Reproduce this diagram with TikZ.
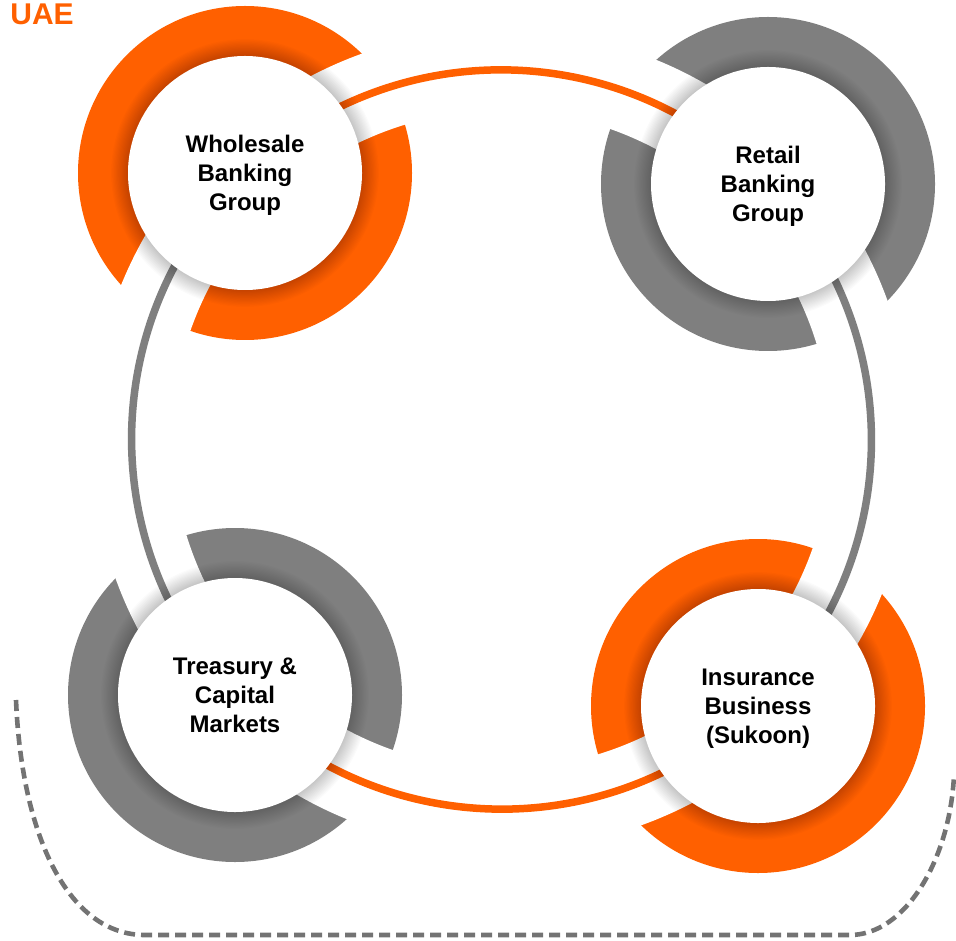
\documentclass[tikz,border=0pt]{standalone}
\usepackage{fontspec}
\setmainfont{Liberation Sans}
\definecolor{eorange}{RGB}{255,96,0}
\definecolor{egray}{RGB}{127,127,127}
\definecolor{dgray}{RGB}{115,115,115}
\pgfdeclarelayer{ringlayer}
\pgfdeclarelayer{linklayer}
\pgfsetlayers{ringlayer,linklayer,main}
\tikzset{
  unit/.style={circle, fill=white, minimum size=117pt, inner sep=0pt, align=center,
    text depth=-3pt, font=\bfseries\fontsize{12}{14.5}\selectfont, text=black},
  orangelink/.style={draw=eorange, line width=3.75pt},
  graylink/.style={draw=egray, line width=3.75pt},
  gapband/.style={draw=white, line width=40.5pt},
  dashline/.style={draw=dgray, line width=2.3pt, dash pattern=on 5.5pt off 3pt},
  glow/.style={fill=black, opacity=0.014},
}
\begin{document}
\begin{tikzpicture}[x=0.5pt,y=0.5pt]
\useasboundingbox (0,0) rectangle (956,-940);
\node[anchor=north west, inner sep=0pt, text=eorange, font=\bfseries\fontsize{15}{18}\selectfont] (uae) at (10,-3) {UAE};

\node[unit] (W) at (245,-173) {Wholesale\\Banking\\Group};
\node[unit] (R) at (768,-184) {Retail\\Banking\\Group};
\node[unit] (T) at (235,-695) {Treasury \&\\Capital\\Markets};
\node[unit] (I) at (758,-706) {Insurance\\Business\\(Sukoon)};

\begin{pgfonlayer}{ringlayer}
  \fill[eorange] (W.center) circle[radius=167];
  \fill[egray] (R.center) circle[radius=167];
  \fill[egray] (T.center) circle[radius=167];
  \fill[eorange] (I.center) circle[radius=167];
  \draw[gapband] (W.center) to[bend left=45] (R.center);
  \draw[gapband] (R.center) to[bend left=45] (I.center);
  \draw[gapband] (I.center) to[bend left=45] (T.center);
  \draw[gapband] (T.center) to[bend left=45] (W.center);
\end{pgfonlayer}

\begin{pgfonlayer}{linklayer}
  \draw[orangelink] (W.center) to[bend left=45] (R.center);
  \draw[graylink] (R.center) to[bend left=45] (I.center);
  \draw[orangelink] (I.center) to[bend left=45] (T.center);
  \draw[graylink] (T.center) to[bend left=45] (W.center);
  \foreach \n in {W,R,T,I}{
    \foreach \k in {1,...,14}{
      \fill[glow] (\n.center) circle[radius=117+1.2*\k];
    }
  }
\end{pgfonlayer}

\coordinate (dL) at (16,-700);
\coordinate (dR) at (954,-775);
\draw[dashline] (dL) .. controls (22,-840) and (70,-935) .. (145,-935) -- (850,-935) .. controls (905,-935) and (950,-860) .. (dR);
\end{tikzpicture}
\end{document}
